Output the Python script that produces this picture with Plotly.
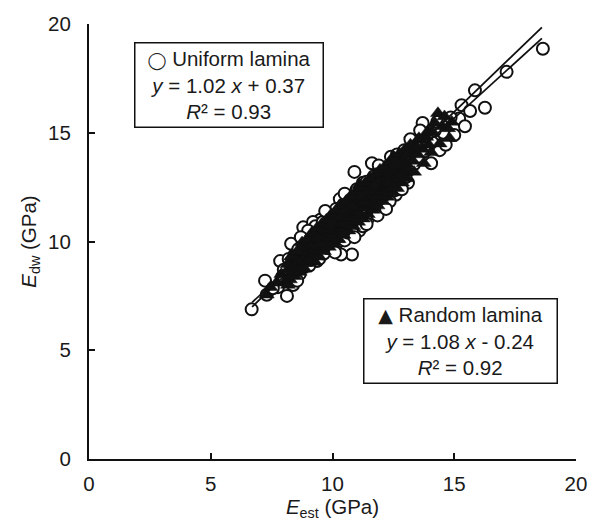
import plotly.graph_objects as go

# ---------------- data ----------------
uniform_x = [
    6.68, 7.23, 7.30, 7.76, 8.13, 8.38, 7.85, 8.30, 8.80, 9.50,
    9.20, 10.30, 10.90, 11.62, 10.80, 10.35, 9.36, 12.60, 13.10, 14.05,
    12.85, 11.25, 11.80, 11.10, 13.20, 13.70, 14.55, 15.03, 15.20, 15.30,
    15.44, 15.65, 15.85, 16.26, 17.15, 18.64, 14.10, 14.40, 13.90, 12.40,
    8.00, 8.10, 8.20, 8.35, 8.45, 8.50, 8.60, 8.65, 8.75, 8.85,
    8.90, 8.95, 9.00, 9.05, 9.10, 9.15, 9.20, 9.25, 9.30, 9.35,
    9.40, 9.45, 9.50, 9.55, 9.60, 9.65, 9.70, 9.75, 9.80, 9.85,
    9.90, 9.95, 10.00, 10.05, 10.10, 10.15, 10.20, 10.25, 10.30, 10.35,
    10.40, 10.45, 10.50, 10.55, 10.60, 10.65, 10.70, 10.75, 10.80, 10.85,
    10.90, 10.95, 11.00, 11.05, 11.10, 11.15, 11.20, 11.25, 11.30, 11.35,
    11.40, 11.45, 11.50, 11.55, 11.60, 11.65, 11.70, 11.75, 11.80, 11.85,
    11.90, 11.95, 12.00, 12.05, 12.10, 12.15, 12.20, 12.25, 12.30, 12.35,
    12.40, 12.45, 12.50, 12.55, 12.60, 12.65, 12.70, 12.75, 12.80, 12.85,
    12.90, 12.95, 13.00, 13.05, 13.15, 13.25, 13.35, 13.45, 13.55, 13.65,
    13.80, 14.20, 14.65, 14.85, 15.00, 9.00, 9.70, 10.50, 10.10, 11.40,
    8.70, 7.55, 7.95, 8.55, 12.20, 11.90, 13.60, 14.30, 9.85, 10.70,
]
uniform_y = [
    6.88, 8.20, 7.55, 7.90, 7.50, 8.00, 9.10, 9.90, 10.65, 11.00,
    10.90, 11.95, 13.20, 13.60, 9.40, 9.40, 9.10, 12.15, 12.70, 13.60,
    12.90, 12.70, 11.90, 10.50, 14.70, 15.45, 15.00, 15.30, 15.65, 16.27,
    15.30, 16.00, 16.95, 16.15, 17.80, 18.86, 14.55, 14.20, 14.95, 13.90,
    8.70, 8.30, 9.20, 8.65, 9.40, 8.80, 9.65, 8.50, 9.10, 9.80,
    8.95, 10.20, 9.40, 8.90, 9.95, 10.45, 9.30, 9.75, 10.70, 9.55,
    10.10, 9.20, 10.40, 9.85, 10.90, 9.45, 10.20, 10.65, 9.70, 11.20,
    10.05, 10.55, 9.80, 11.00, 10.30, 11.50, 9.95, 10.75, 11.25, 10.15,
    10.60, 11.70, 10.05, 10.95, 11.40, 10.40, 12.10, 11.00, 10.55, 11.60,
    10.20, 11.30, 12.40, 10.85, 11.75, 12.00, 11.10, 10.70, 12.30, 11.45,
    12.75, 11.05, 11.90, 12.50, 11.30, 12.05, 13.00, 11.55, 12.35, 11.20,
    12.80, 11.85, 13.25, 12.20, 11.60, 12.65, 13.40, 12.00, 12.95, 11.85,
    12.50, 13.55, 12.80, 12.35, 13.20, 14.00, 12.55, 13.05, 13.60, 12.40,
    13.40, 14.20, 12.95, 13.70, 13.30, 14.10, 13.55, 14.40, 13.90, 14.60,
    14.15, 15.10, 14.45, 15.70, 14.90, 10.50, 11.40, 12.20, 9.50, 10.80,
    10.20, 7.85, 8.40, 8.20, 11.50, 13.50, 15.10, 15.50, 10.90, 11.80,
]

random_x = [
    7.30, 7.45, 7.70, 7.90, 8.05, 8.17, 8.20, 8.30, 8.40, 8.45,
    8.50, 8.55, 8.60, 8.65, 8.70, 8.75, 8.80, 8.85, 8.90, 8.95,
    9.00, 9.05, 9.10, 9.15, 9.20, 9.25, 9.30, 9.35, 9.40, 9.45,
    9.50, 9.55, 9.60, 9.65, 9.70, 9.75, 9.80, 9.85, 9.90, 9.95,
    10.00, 10.05, 10.10, 10.15, 10.20, 10.25, 10.30, 10.35, 10.40, 10.45,
    10.50, 10.55, 10.60, 10.65, 10.70, 10.75, 10.80, 10.85, 10.90, 10.95,
    11.00, 11.05, 11.10, 11.15, 11.20, 11.25, 11.30, 11.35, 11.40, 11.45,
    11.50, 11.55, 11.60, 11.65, 11.70, 11.75, 11.80, 11.85, 11.90, 11.95,
    12.00, 12.05, 12.10, 12.15, 12.20, 12.25, 12.30, 12.40, 12.45, 12.50,
    12.60, 12.65, 12.70, 12.80, 12.85, 12.90, 13.00, 13.05, 13.15, 13.25,
    13.30, 13.40, 13.50, 13.60, 13.70, 13.85, 13.95, 14.10, 14.33, 14.50,
    14.80, 14.90, 9.00, 9.50, 10.00, 10.40, 10.90, 11.30, 11.80, 12.20,
    8.30, 8.80, 9.60, 10.60, 11.10, 12.50, 12.00, 10.20, 11.60, 9.20,
    8.15, 8.25, 8.35, 8.45, 8.55, 8.65, 8.75, 8.85, 8.95, 9.05,
    9.15, 9.25, 9.35, 9.45, 9.55, 9.65, 9.75, 9.85, 9.95, 10.05,
    10.15, 10.25, 10.35, 10.45, 10.55, 10.65, 10.75, 10.85, 10.95, 11.05,
    11.15, 11.25, 11.35, 11.45, 11.55, 11.65, 11.75, 11.85, 11.95, 12.05,
    12.15, 12.25, 12.35, 12.45, 12.55, 12.65, 12.75, 12.85, 12.95, 13.05,
    13.20, 13.35, 13.55, 13.75, 13.90, 14.05, 14.20, 14.40, 14.60, 14.75,
    9.10, 9.80, 10.30, 10.80, 11.40, 11.90, 12.30, 12.90, 13.45, 10.00,
    8.60, 9.40, 10.70, 11.20, 12.40, 13.10, 10.50, 11.70, 9.90, 12.70,
]
random_y = [
    7.55, 7.90, 8.10, 8.50, 8.15, 8.00, 8.75, 8.45, 9.00, 8.60,
    9.25, 8.85, 9.45, 9.05, 8.70, 9.60, 9.25, 9.00, 9.80, 9.40,
    9.15, 10.00, 9.55, 9.30, 10.15, 9.75, 9.45, 10.30, 9.95, 9.65,
    10.50, 10.10, 9.80, 10.70, 10.30, 10.00, 10.90, 10.45, 10.15, 11.05,
    10.60, 10.30, 11.20, 10.80, 10.45, 11.35, 10.95, 10.60, 11.50, 11.15,
    10.75, 11.65, 11.30, 10.95, 11.85, 11.45, 11.10, 12.00, 11.60, 11.25,
    12.15, 11.75, 11.35, 12.30, 11.90, 11.55, 12.45, 12.05, 11.70, 12.60,
    12.20, 11.85, 12.75, 12.35, 12.00, 12.90, 12.50, 12.15, 13.05, 12.65,
    12.30, 13.20, 12.80, 12.45, 13.30, 12.95, 12.60, 13.45, 13.10, 12.75,
    13.60, 13.25, 12.90, 13.75, 13.40, 13.05, 13.95, 13.55, 13.25, 14.15,
    13.70, 14.40, 14.00, 14.65, 14.25, 14.80, 14.45, 15.05, 15.90, 15.30,
    14.75, 15.50, 9.70, 9.90, 11.10, 10.80, 12.00, 11.80, 13.10, 12.70,
    9.30, 9.85, 10.50, 11.90, 12.60, 13.90, 12.00, 10.10, 12.10, 9.60,
    8.95, 8.25, 9.35, 8.40, 9.55, 8.60, 9.95, 8.75, 10.10, 9.00,
    10.40, 9.10, 10.60, 9.30, 10.80, 9.55, 11.00, 9.75, 11.25, 9.90,
    11.45, 10.10, 11.65, 10.30, 11.85, 10.50, 12.10, 10.70, 12.30, 10.90,
    12.45, 11.05, 12.70, 11.25, 12.90, 11.45, 13.10, 11.65, 13.30, 11.85,
    13.45, 12.05, 13.65, 12.25, 13.85, 12.45, 14.05, 12.70, 14.20, 12.90,
    14.45, 13.20, 14.75, 13.60, 15.05, 14.10, 15.45, 14.50, 15.75, 15.20,
    9.75, 10.55, 11.10, 11.60, 12.25, 12.70, 13.20, 13.70, 14.30, 10.85,
    9.10, 10.15, 11.40, 12.05, 13.30, 14.00, 11.40, 12.55, 10.70, 13.50,
]

# regression fits (slope, intercept) and fitted x-span
uniform_fit = (1.02, 0.37)
random_fit = (1.08, -0.24)
fit_x_span = [6.7, 18.6]

axis_ticks = [0, 5, 10, 15, 20]

# ---------------- figure ----------------
FONT = "Liberation Sans, Arial, Helvetica, sans-serif"
FS = 20.5
INK = "#111111"

fig = go.Figure()

fig.add_trace(go.Scatter(
    x=uniform_x, y=uniform_y, mode="markers", name="Uniform lamina",
    marker=dict(symbol="circle", size=12, color="white",
                line=dict(color=INK, width=2)),
))
fig.add_trace(go.Scatter(
    x=random_x, y=random_y, mode="markers", name="Random lamina",
    marker=dict(symbol="triangle-up", size=13, color=INK,
                line=dict(color=INK, width=0.5)),
))

for slope, icpt in (uniform_fit, random_fit):
    fx = fit_x_span
    fy = [slope * v + icpt for v in fx]
    fig.add_trace(go.Scatter(x=fx, y=fy, mode="lines",
                             line=dict(color=INK, width=1.8),
                             showlegend=False, hoverinfo="skip"))

common_axis = dict(
    range=[0, 20], tickvals=axis_ticks, ticks="inside", ticklen=6,
    tickwidth=2, tickcolor=INK, showline=True, linewidth=2,
    linecolor=INK, showgrid=False, zeroline=False,
    tickfont=dict(family=FONT, size=FS, color="#1a1a1a"),
)

fig.update_layout(
    width=600, height=528,
    margin=dict(l=89, r=24, t=16, b=69),
    paper_bgcolor="white", plot_bgcolor="white",
    showlegend=False,
    font=dict(family=FONT, size=FS, color="#1a1a1a"),
    xaxis=dict(**common_axis, ticklabelstandoff=5,
               title=dict(text="<i>E</i><sub>est</sub> (GPa)",
                          font=dict(family=FONT, size=FS), standoff=6)),
    yaxis=dict(**common_axis, ticklabelstandoff=12,
               title=dict(text="<i>E</i><sub>dw</sub> (GPa)",
                          font=dict(family=FONT, size=FS), standoff=6)),
)

fig.add_annotation(
    xref="paper", yref="paper", x=0.2885, y=0.860,
    xanchor="center", yanchor="middle", showarrow=False,
    text=('<span style="font-family:DejaVu Sans;font-size:17px">◯</span> Uniform lamina<br>'
          '<i>y</i> = 1.02 <i>x</i> + 0.37<br><i>R</i>² = 0.93'),
    align="center", font=dict(family=FONT, size=FS, color="#1a1a1a"),
    bgcolor="white", bordercolor=INK, borderwidth=1.5, borderpad=1,
    width=185, height=81,
)
fig.add_annotation(
    xref="paper", yref="paper", x=0.763, y=0.2717,
    xanchor="center", yanchor="middle", showarrow=False,
    text=('<span style="font-family:DejaVu Sans;font-size:19px">▲</span> Random lamina<br>'
          '<i>y</i> = 1.08 <i>x</i> - 0.24<br><i>R</i>² = 0.92'),
    align="center", font=dict(family=FONT, size=FS, color="#1a1a1a"),
    bgcolor="white", bordercolor=INK, borderwidth=1.5, borderpad=1,
    width=190, height=81,
)

fig.write_html("out.html")
